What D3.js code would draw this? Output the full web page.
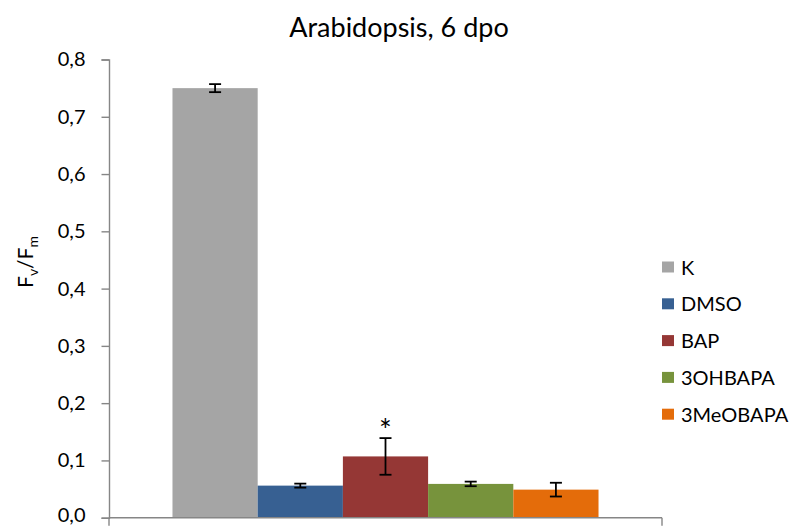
<!DOCTYPE html>
<html>
<head>
<meta charset="utf-8">
<script src="https://cdn.jsdelivr.net/npm/d3@7"></script>
<style>
  html, body { margin: 0; padding: 0; background: #fff; }
  svg { display: block; font-family: Lato, "Open Sans", sans-serif; }
</style>
</head>
<body>
<svg id="chart" width="795" height="526"></svg>
<script>
// Treatments (one category, five series)
const series = ["K", "DMSO", "BAP", "3OHBAPA", "3MeOBAPA"];
const values = [0.750, 0.056, 0.107, 0.059, 0.049];
const errors = [0.007, 0.0035, 0.032, 0.004, 0.012];
const marks = ["", "", "*", "", ""];
const colors = ["#A5A5A5", "#376092", "#953735", "#77933C", "#E46C0A"];
const yTicks = [0, 0.1, 0.2, 0.3, 0.4, 0.5, 0.6, 0.7, 0.8];

const svg = d3.select("#chart");
const plotL = 109, plotR = 662, plotT = 59.5, plotB = 517.7;

const y = d3.scaleLinear().domain([0, 0.8]).range([plotB, plotT]);
const x0 = d3.scaleBand().domain(["g"]).range([plotL, plotR]).paddingOuter(0.149);
const x = d3.scaleBand().domain(series).range([x0("g"), x0("g") + x0.bandwidth()]).padding(0);

const fmt = v => d3.format(".1f")(v).replace(".", ",");
const axisColor = "#868686";

// Title
svg.append("text")
  .attr("x", 399).attr("y", 37)
  .attr("text-anchor", "middle")
  .attr("font-size", 27)
  .attr("fill", "#000")
  .text("Arabidopsis, 6 dpo");

// Bars
svg.append("g").selectAll("rect")
  .data(series)
  .join("rect")
  .attr("x", d => x(d))
  .attr("width", x.bandwidth())
  .attr("y", (d, i) => y(values[i]))
  .attr("height", (d, i) => y(0) - y(values[i]))
  .attr("fill", (d, i) => colors[i]);

// Error bars
const eb = svg.append("g").attr("stroke", "#000").attr("stroke-width", 1.8);
series.forEach((s, i) => {
  const cx = x(s) + x.bandwidth() / 2;
  const y1 = y(values[i] + errors[i]), y2 = y(values[i] - errors[i]);
  eb.append("line").attr("x1", cx).attr("x2", cx).attr("y1", y1).attr("y2", y2);
  eb.append("line").attr("x1", cx - 6).attr("x2", cx + 6).attr("y1", y1).attr("y2", y1);
  eb.append("line").attr("x1", cx - 6).attr("x2", cx + 6).attr("y1", y2).attr("y2", y2);
  if (marks[i]) {
    svg.append("text")
      .attr("x", cx).attr("y", y1 + 3)
      .attr("text-anchor", "middle")
      .attr("font-size", 30)
      .text(marks[i]);
  }
});

// Y axis
const yAxis = svg.append("g")
  .attr("transform", `translate(${plotL},0)`)
  .call(d3.axisLeft(y).tickValues(yTicks).tickFormat(fmt).tickSize(7.5).tickPadding(16));
yAxis.select(".domain").attr("stroke", axisColor).attr("stroke-width", 1.4);
yAxis.selectAll(".tick line").attr("stroke", axisColor).attr("stroke-width", 1.4);
yAxis.selectAll(".tick text").attr("font-size", 20).attr("fill", "#000")
  .attr("font-family", "Lato, 'Open Sans', sans-serif");
// keep the bottom label inside the page edge
yAxis.selectAll(".tick text").filter(d => d === 0).attr("dy", "0.2em");

// X axis (category boundaries only)
const xAxis = svg.append("g").attr("stroke", axisColor).attr("stroke-width", 1.4);
xAxis.append("line").attr("x1", plotL).attr("x2", plotR).attr("y1", plotB).attr("y2", plotB);
[plotL, plotR].forEach(px => {
  xAxis.append("line").attr("x1", px).attr("x2", px).attr("y1", plotB).attr("y2", plotB + 8);
});

// Y axis label: Fv/Fm
const yl = svg.append("text")
  .attr("transform", "translate(33,262) rotate(-90)")
  .attr("text-anchor", "middle")
  .attr("font-size", 21);
yl.append("tspan").text("F");
yl.append("tspan").attr("font-size", 14).attr("dy", 5).text("v");
yl.append("tspan").attr("dy", -5).text("/F");
yl.append("tspan").attr("font-size", 14).attr("dy", 5).text("m");

// Legend
const lg = svg.append("g").attr("transform", "translate(662,267)");
series.forEach((s, i) => {
  const g = lg.append("g").attr("transform", `translate(0,${i * 36.8})`);
  g.append("rect").attr("x", 0).attr("y", -5.5).attr("width", 12).attr("height", 11).attr("fill", colors[i]);
  g.append("text").attr("x", 19).attr("y", 7.5).attr("font-size", 20).text(s);
});
</script>
</body>
</html>
